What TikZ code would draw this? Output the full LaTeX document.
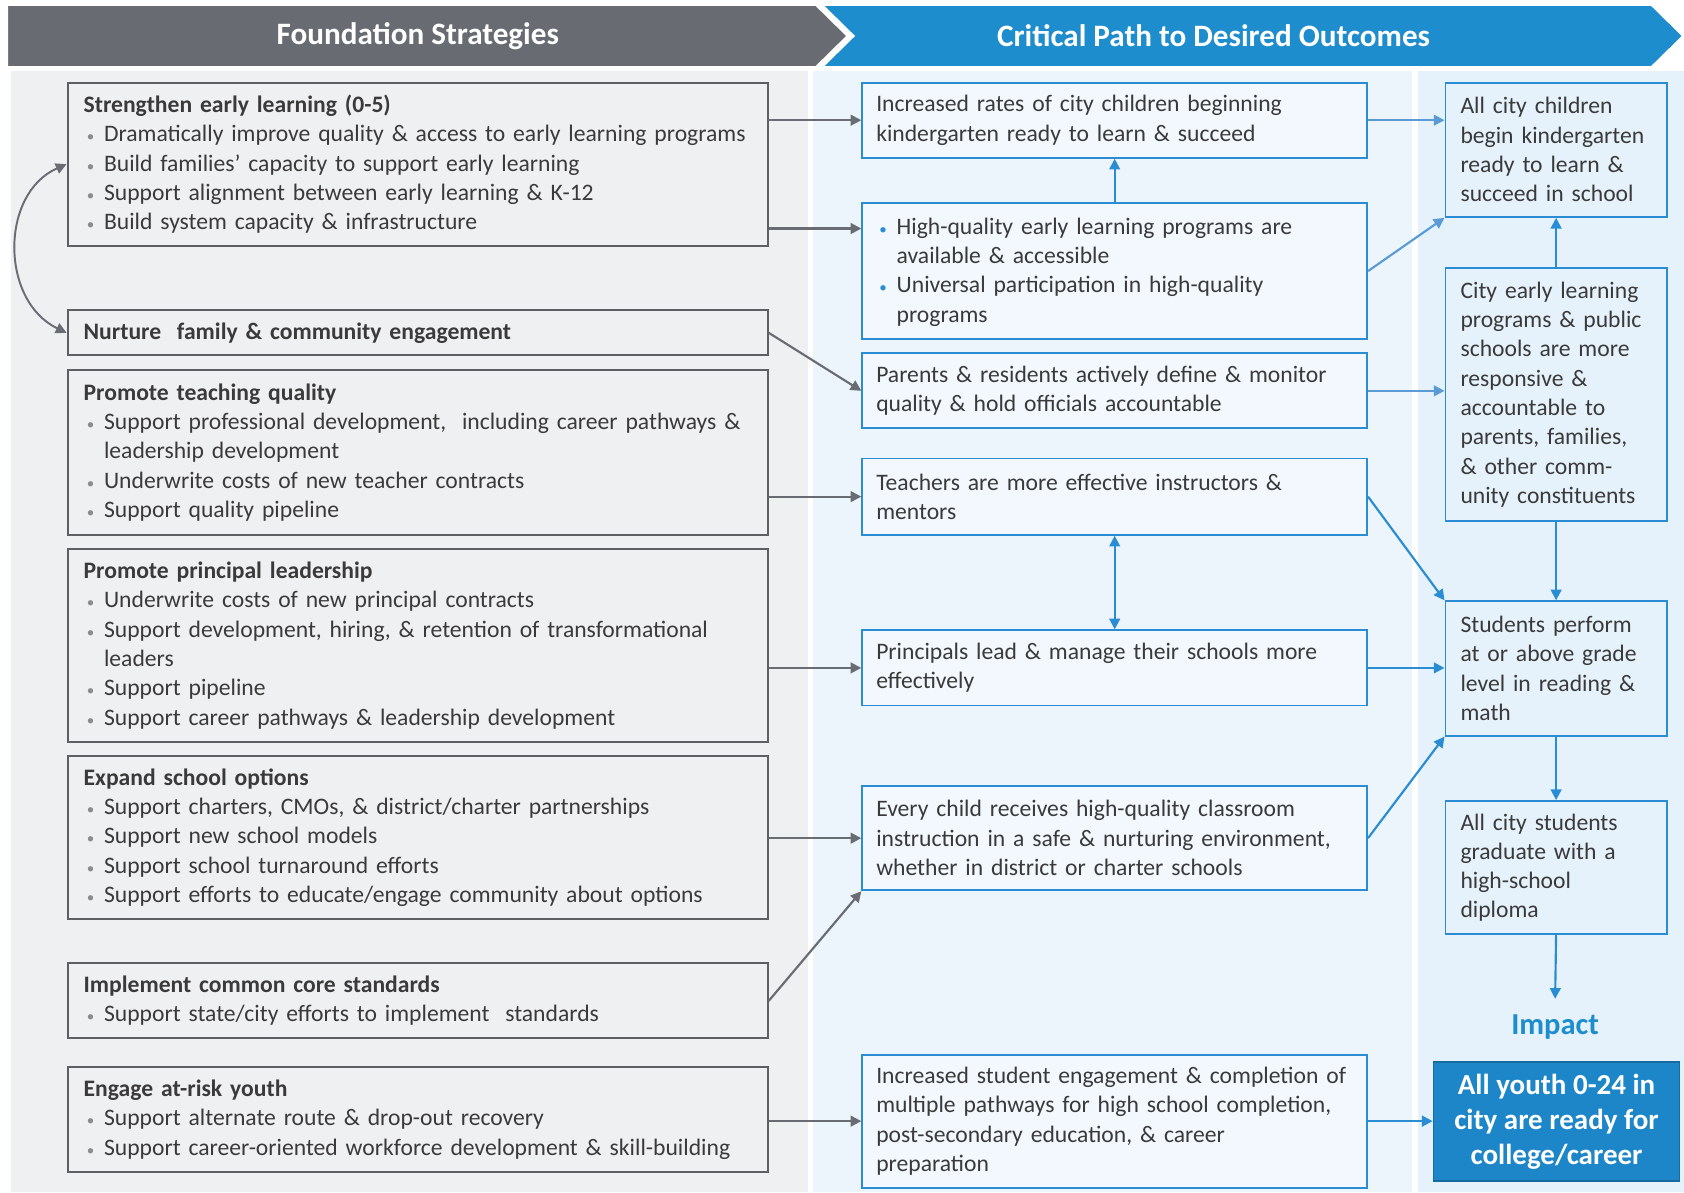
\documentclass[tikz,border=0pt]{standalone}
\usepackage{fontspec}
\setmainfont{Carlito}
\usetikzlibrary{arrows.meta}
\definecolor{hdrgray}{HTML}{686B72}
\definecolor{hdrblue}{HTML}{1E8DCD}
\definecolor{panelgray}{HTML}{EFF0F2}
\definecolor{panelblue}{HTML}{EDF5FC}
\definecolor{panelsky}{HTML}{E6F2FB}
\definecolor{boxgray}{HTML}{5E5F63}
\definecolor{boxblue}{HTML}{2A8DD4}
\definecolor{linkblue}{HTML}{5B9BD5}
\definecolor{linkgray}{HTML}{6A6C74}
\definecolor{txtgray}{HTML}{3A3A3A}
\definecolor{bulgray}{HTML}{8C8C8C}
\definecolor{goalblue}{HTML}{1C86C8}
% bold heading line and a bullet with hanging text
% (the depth of the last wrapped line is carried over so the spacing stays even)
\newcommand{\hd}[1]{\textbf{#1}\par}
\newcommand{\bul}[2][bulgray]{\par\noindent\makebox[9.5pt][l]{\hspace{1.5pt}\textcolor{#1}{\scriptsize\textbullet}}%
  \parbox[t]{\dimexpr\hsize-9.5pt\relax}{\raggedright#2\par\xdef\buldp{\the\prevdepth}}\par\prevdepth=\buldp\relax}

\begin{document}
\begin{tikzpicture}[x=0.5pt, y=-0.5pt, >={Triangle[length=5pt,width=5pt]},
  strat/.style={draw=boxgray, line width=0.9pt, fill=panelgray, anchor=north west, align=left,
    text width=311pt, inner xsep=7.5pt, inner ysep=1pt, text=txtgray,
    font=\fontsize{11}{13.65}\selectfont},
  outc/.style={strat, draw=boxblue, fill=panelblue!70!white, text width=222pt, inner xsep=6.5pt},
  goal/.style={strat, draw=boxblue, fill=panelsky, text width=89pt, inner xsep=7pt},
  hdr/.style={text=white, font=\bfseries\fontsize{14.5}{17}\selectfont},
  glink/.style={->, draw=linkgray, line width=1pt},
  blink/.style={->, draw=boxblue, line width=1pt},
  llink/.style={->, draw=linkblue, line width=1pt}]
  \useasboundingbox (0,0) rectangle (1568,1110);

  % column panels and banner
  \fill[panelgray] (10,66) rectangle (752,1110);
  \fill[panelblue] (757,66) rectangle (1315,1110);
  \fill[panelsky] (1320,66) rectangle (1568,1110);
  \draw[white, line width=1.5pt, fill=hdrblue] (764,4) -- (1538,4) -- (1568,33.5) -- (1538,63) -- (764,63) -- (794,33.5) -- cycle;
  \draw[white, line width=1.5pt, fill=hdrgray] (6,4) -- (760,4) -- (790,33.5) -- (760,63) -- (6,63) -- cycle;
  \node[hdr] (hfound) at (389,33.5) {Foundation Strategies};
  \node[hdr] (hpath) at (1130,33.5) {Critical Path to Desired Outcomes};

  % foundation strategies
  \node[strat, minimum height=76pt] (early) at (62,76) {\hd{Strengthen early learning (0-5)}
    \bul{Dramatically improve quality \& access to early learning programs}
    \bul{Build families’ capacity to support early learning}
    \bul{Support alignment between early learning \& K-12}
    \bul{Build system capacity \& infrastructure}};
  \node[strat, minimum height=21pt] (family) at (62,288) {\textbf{Nurture\ \ family \& community engagement}};
  \node[strat, minimum height=76.5pt] (teach) at (62,344) {\hd{Promote teaching quality}
    \bul{Support professional development,\ \ including career pathways \&\\leadership development}
    \bul{Underwrite costs of new teacher contracts}
    \bul{Support quality pipeline}};
  \node[strat, minimum height=90pt] (princ) at (62,510) {\hd{Promote principal leadership}
    \bul{Underwrite costs of new principal contracts}
    \bul{Support development, hiring, \& retention of transformational\\leaders}
    \bul{Support pipeline}
    \bul{Support career pathways \& leadership development}};
  \node[strat, minimum height=76pt] (options) at (62,703) {\hd{Expand school options}
    \bul{Support charters, CMOs, \& district/charter partnerships}
    \bul{Support new school models}
    \bul{Support school turnaround efforts}
    \bul{Support efforts to educate/engage community about options}};
  \node[strat, minimum height=35pt] (core) at (62,896) {\hd{Implement common core standards}
    \bul{Support state/city efforts to implement\ \ standards}};
  \node[strat, minimum height=48.5pt] (youth) at (62,993) {\hd{Engage at-risk youth}
    \bul{Support alternate route \& drop-out recovery}
    \bul{Support career-oriented workforce development \& skill-building}};

  % critical path
  \node[outc, minimum height=35pt] (ready) at (802,76) {Increased rates of city children beginning\\kindergarten ready to learn \& succeed};
  \node[outc, minimum height=62pt] (quality) at (802,188) {\bul[boxblue]{High-quality early learning programs are\\available \& accessible}
    \bul[boxblue]{Universal participation in high-quality\\programs}\par\vspace{5pt}};
  \node[outc, minimum height=35pt] (parents) at (802,328) {Parents \& residents actively define \& monitor\\quality \& hold officials accountable};
  \node[outc, minimum height=35.5pt] (teachers) at (802,426) {Teachers are more effective instructors \&\\mentors};
  \node[outc, minimum height=35pt] (principals) at (802,586) {Principals lead \& manage their schools more\\effectively};
  \node[outc, minimum height=48.5pt] (classroom) at (802,731) {Every child receives high-quality classroom\\instruction in a safe \& nurturing environment,\\whether in district or charter schools};
  \node[outc, minimum height=62pt] (engage) at (802,981) {Increased student engagement \& completion of\\multiple pathways for high school completion,\\post-secondary education, \& career\\preparation};

  % outcomes
  \node[goal, minimum height=62.5pt] (kinder) at (1345,76) {All city children\\begin kindergarten\\ready to learn \&\\succeed in school};
  \node[goal, minimum height=117.5pt] (account) at (1345,249) {City early learning\\programs \& public\\schools are more\\responsive \&\\accountable to\\parents, families,\\\& other comm-\\unity constituents};
  \node[goal, minimum height=62.5pt] (grade) at (1345,559) {Students perform\\at or above grade\\level in reading \&\\math};
  \node[goal, minimum height=62pt] (diploma) at (1345,745) {All city students\\graduate with a\\high-school\\diploma};
  \node[text=hdrblue, font=\bfseries\fontsize{14.2}{16}\selectfont] (impact) at (1448,956) {Impact};
  \node[anchor=north west, fill=goalblue, draw=goalblue!80!black, line width=0.8pt, text=white,
    align=center, minimum width=114.5pt, minimum height=55.5pt, inner sep=1pt,
    font=\bfseries\fontsize{13.5}{16.3}\selectfont] (career) at (1334,988) {All youth 0-24 in\\city are ready for\\college/career};
  \coordinate (toimpact) at (1448,930);

  % strategy links
  \draw[glink] (early.east |- ready.west) -- (ready.west);
  \draw[glink] ([yshift=8.5pt]early.south east) coordinate (e2) -- (e2 -| quality.west);
  \draw[glink, <->, line width=0.9pt] (early.west) .. controls (0,180) and (0,280) .. (family.west);
  \draw[glink] (family.east) -- (parents.west);
  \draw[glink] (teach.east |- teachers.west) -- (teachers.west);
  \draw[glink] (princ.east |- principals.west) -- (principals.west);
  \draw[glink] (options.east |- classroom.west) -- (classroom.west);
  \draw[glink] (core.east) -- (classroom.south west);
  \draw[glink] (youth.east |- engage.west) -- (engage.west);

  % outcome links
  \draw[blink] (quality.north) -- (ready.south);
  \draw[llink] (ready.east) -- (ready.east -| kinder.west);
  \draw[llink] (quality.east) -- (kinder.south west);
  \draw[llink] (parents.east) -- (parents.east -| account.west);
  \draw[blink, <->] (teachers.south) -- (principals.north);
  \draw[blink] (teachers.east) -- (grade.north west);
  \draw[blink] (principals.east) -- (principals.east -| grade.west);
  \draw[blink] (classroom.east) -- (grade.south west);
  \draw[blink] (account.north) -- (kinder.south);
  \draw[blink] (account.south) -- (grade.north);
  \draw[blink] (grade.south) -- (diploma.north);
  \draw[blink] (diploma.south) -- (toimpact);
  \draw[blink] (engage.east) -- (engage.east -| career.west);
\end{tikzpicture}
\end{document}
